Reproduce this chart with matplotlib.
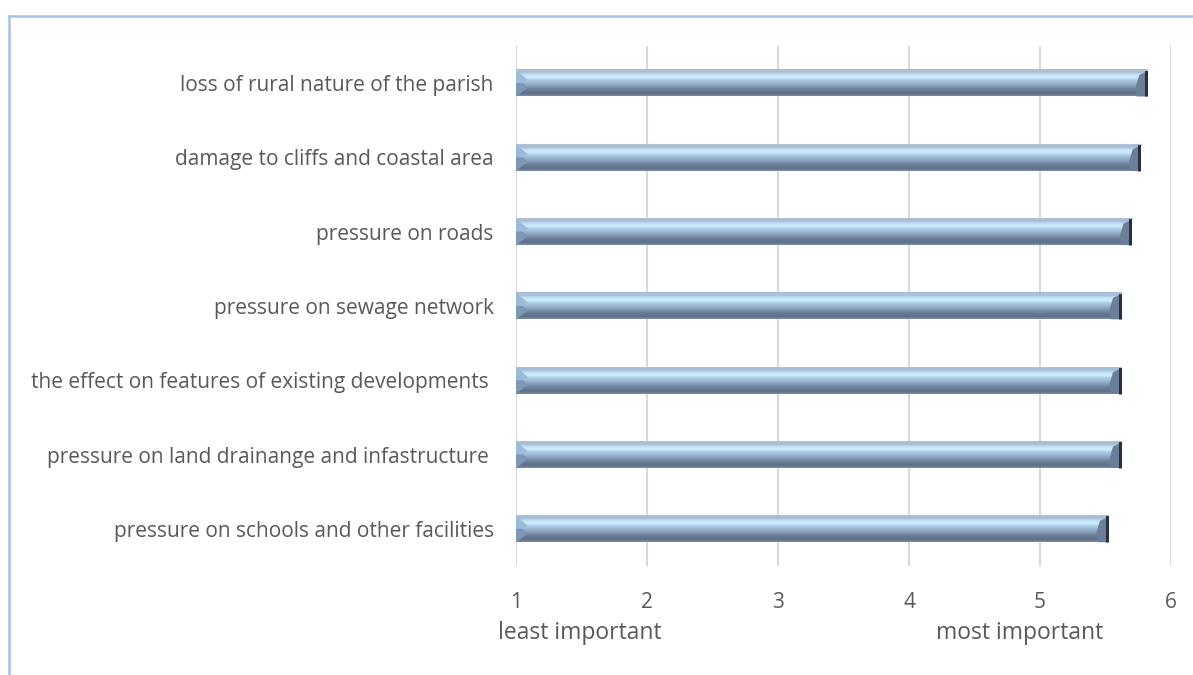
import matplotlib
matplotlib.use("Agg")
import matplotlib.pyplot as plt
import numpy as np
from matplotlib.colors import LinearSegmentedColormap
from matplotlib.patches import Polygon
from matplotlib.lines import Line2D

# categories listed bottom -> top
categories = [
    "pressure on schools and other facilities",
    "pressure on land drainange and infastructure ",
    "the effect on features of existing developments ",
    "pressure on sewage network",
    "pressure on roads",
    "damage to cliffs and coastal area",
    "loss of rural nature of the parish",
]
scores = [5.52, 5.62, 5.62, 5.62, 5.70, 5.77, 5.82]
xticks = [1, 2, 3, 4, 5, 6]

plt.rcParams["font.family"] = ["Open Sans", "DejaVu Sans"]
TXT = "#595959"

fig = plt.figure(figsize=(11.93, 6.75), dpi=100)
ax = fig.add_axes([0.4325, 0.1615, 0.5491, 0.7704])

# vertical gradient for the bevelled bars (bottom -> top)
grad = LinearSegmentedColormap.from_list("bevel", [
    (0.00, "#7c8da3"),
    (0.10, "#5c6f88"),
    (0.25, "#6d819b"),
    (0.42, "#8fa9c6"),
    (0.58, "#a8c8e4"),
    (0.70, "#cdeefd"),
    (0.80, "#c4e2f5"),
    (0.88, "#a9c2dc"),
    (1.00, "#a4bad2"),
])
img = np.linspace(0, 1, 64).reshape(-1, 1)

h = 0.36
bx = 0.09   # bevel width in data units
for i, v in enumerate(scores):
    y0, y1 = i - h / 2, i + h / 2
    yc = (y0 + y1) / 2
    ax.imshow(img, cmap=grad, origin="lower", aspect="auto",
              extent=[1, v, y0, y1], zorder=3, interpolation="bilinear")
    # left bevel
    ax.add_patch(Polygon([(1, y1), (1 + bx, yc + h * 0.12), (1 + bx * 0.6, yc), (1, yc)],
                         closed=True, fc="#9cbbd8", ec="none", zorder=4))
    ax.add_patch(Polygon([(1, yc), (1 + bx * 0.6, yc), (1 + bx, yc - h * 0.18), (1, y0)],
                         closed=True, fc="#7d97b5", ec="none", zorder=4))
    # right bevel
    ax.add_patch(Polygon([(v, y1 - h * 0.05), (v - bx * 0.7, y1 - h * 0.2),
                          (v - bx, yc - h * 0.15), (v - bx * 0.9, y0), (v, y0)],
                         closed=True, fc="#6c7f98", ec="none", zorder=4))
    ax.add_patch(Polygon([(v, y1), (v - bx * 0.7, y1 - h * 0.2), (v, y1 - h * 0.05)],
                         closed=True, fc="#9fb4cb", ec="none", zorder=4))
    ax.plot([v - 0.012, v - 0.012], [y0, y1], color="#27313f", lw=2.2, zorder=5,
            solid_capstyle="butt")
    ax.plot([1, v], [y1, y1], color="#b3c3d4", lw=0.8, zorder=5)

ax.set_xlim(1, 6)
ax.set_ylim(-0.5, len(categories) - 0.5)
ax.set_xticks(xticks)
ax.set_xticklabels([str(t) for t in xticks])
ax.set_yticks(range(len(categories)))
ax.set_yticklabels(categories)
ax.tick_params(axis="both", length=0, labelsize=15, colors=TXT)
ax.tick_params(axis="x", pad=19)
ax.tick_params(axis="y", pad=16)
ax.grid(axis="x", color="#d9d9d9", lw=1.5, zorder=0)
ax.set_axisbelow(True)
for s in ax.spines.values():
    s.set_visible(False)

fig.text(580 / 1193, 1 - 633 / 675, "least important", ha="center", va="center",
         fontsize=16.5, color=TXT)
fig.text(1020 / 1193, 1 - 633 / 675, "most important", ha="center", va="center",
         fontsize=16.5, color=TXT)

# chart-area frame (only left and top edges are visible)
fig.add_artist(Line2D([8.5 / 1193, 8.5 / 1193], [0, 1 - 16 / 675],
                      transform=fig.transFigure, color="#a4c3e6", lw=1.8))
fig.add_artist(Line2D([8.5 / 1193, 1], [1 - 16 / 675, 1 - 16 / 675],
                      transform=fig.transFigure, color="#a4c3e6", lw=1.8))

fig.savefig("out.png", dpi=100)
